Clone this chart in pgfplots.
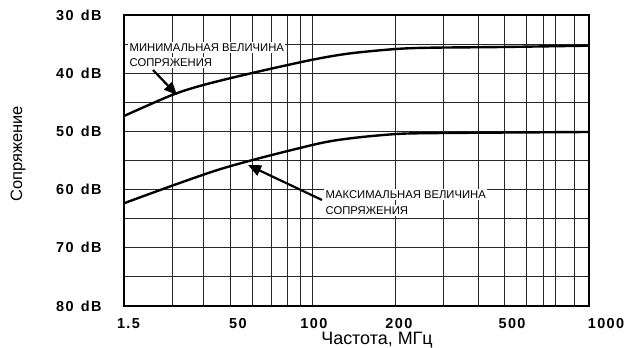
\documentclass[border=0pt]{standalone}
\usepackage{pgfplots}
\pgfplotsset{compat=1.18}
\usepackage{fontspec}
\setmainfont{Liberation Sans}
\newfontfamily\tickfont{Liberation Sans}[LetterSpace=10]
\usetikzlibrary{arrows.meta}
\newcommand{\dB}[1]{#1\hspace{0.5em}dB}
\begin{document}
\begin{tikzpicture}
\begin{axis}[
  scale only axis, width=465bp, height=291bp,
  xmode=log, xmin=21.2, xmax=984,
  ymin=30, ymax=80, y dir=reverse,
  xtick={21.2,51.2,100,200,488,984},
  xticklabels={{\hspace*{9bp}1.5},{\hspace*{14bp}50},{\hspace*{4bp}100},{\hspace*{6bp}200},{\hspace*{16bp}500},{\hspace*{34bp}1000}},
  minor xtick={31.5,41,61,71.3,81.4,90.6,295,394,585,678,749,876},
  ytick={30,40,...,80},
  yticklabels={\dB{30},\dB{40},\dB{50},\dB{60},\dB{70},\dB{80}},
  minor ytick={35,45,...,75},
  grid=both,
  major grid style={black!85, line width=0.9bp},
  minor grid style={black!85, line width=0.9bp},
  major tick length=0pt, minor tick length=0pt,
  axis line style={line width=2.2bp},
  tick label style={font=\tickfont\bfseries\fontsize{14.5}{17}\selectfont},
  xticklabel style={yshift=-9bp},
  yticklabel style={xshift=-19bp},
]
\addplot[line width=2.4bp, smooth, black] coordinates {
  (21.2,47.35) (31.5,43.75) (41,42.0) (61,39.97)
  (100,37.7) (136.8,36.6) (200,35.84) (264.8,35.62)
  (472,35.5) (984,35.27)};
\addplot[line width=2.4bp, smooth, black] coordinates {
  (21.2,62.35) (46.8,56.5)
  (100,52.35) (136.8,51.2) (200,50.45) (264.8,50.3)
  (472,50.2) (984,50.1)};
\end{axis}
\begin{scope}[shift={(current axis.north west)}, x=1bp, y=-1bp]
  \pgfresetboundingbox
  \path[use as bounding box] (-124,-15) rectangle (504,332);
  \node[anchor=base west, fill=white, inner sep=1.5bp, font=\fontsize{11.3}{13}\selectfont] at (4,36) {МИНИМАЛЬНАЯ ВЕЛИЧИНА};
  \node[anchor=base west, fill=white, inner sep=1.5bp, font=\fontsize{11.3}{13}\selectfont] at (4,51) {СОПРЯЖЕНИЯ};
  \node[anchor=base west, fill=white, inner sep=1.5bp, font=\fontsize{11.3}{13}\selectfont] at (200,183) {МАКСИМАЛЬНАЯ ВЕЛИЧИНА};
  \node[anchor=base west, fill=white, inner sep=1.5bp, font=\fontsize{11.3}{13}\selectfont] at (200,199) {СОПРЯЖЕНИЯ};
  \draw[line width=2.2bp, -{Triangle[length=13bp,width=11bp]}] (29,55) -- (53,80);
  \draw[line width=2.2bp, -{Triangle[length=13bp,width=11bp]}] (198,185) -- (124,150);
  \node[rotate=90, font=\fontsize{16.5}{19}\selectfont] at (-106,139) {Сопряжение};
  \node[anchor=base, font=\fontsize{18}{21}\selectfont] at (253,329) {Частота, МГц};
\end{scope}
\end{tikzpicture}
\end{document}
